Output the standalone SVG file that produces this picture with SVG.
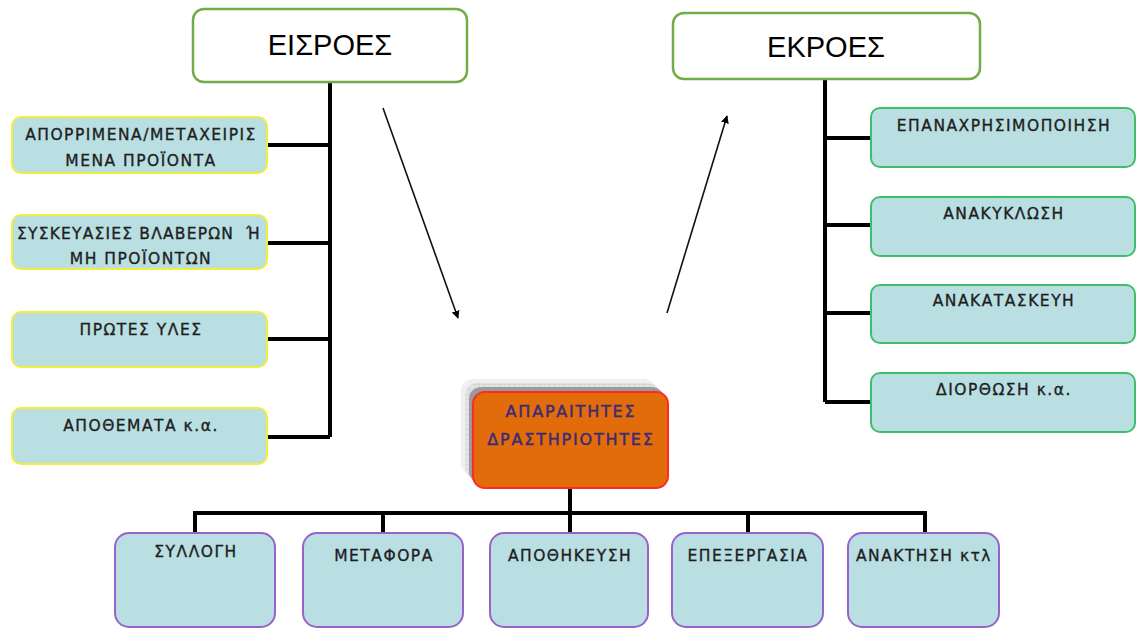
<svg xmlns="http://www.w3.org/2000/svg" width="1136" height="628" viewBox="0 0 1136 628">
  <style>
    .head { fill: #ffffff; stroke: #70ad47; stroke-width: 2.5; }
    .head-text { font-family: "Liberation Sans", Arial, sans-serif; font-size: 29px; fill: #000000; text-anchor: middle; }
    .in { fill: #b9dfe3; stroke: #f2ee3a; stroke-width: 2; }
    .out { fill: #b9dfe3; stroke: #3fbf6a; stroke-width: 2; }
    .act { fill: #b9dfe3; stroke: #9a62c8; stroke-width: 2; }
    .lbl { font-family: "DejaVu Sans", "Liberation Sans", sans-serif; font-size: 15.5px; letter-spacing: 1.5px; fill: #1e1e1e; stroke: #1e1e1e; stroke-width: 0.35; text-anchor: middle; }
    .tight { letter-spacing: 1.2px; }
    .core { fill: #e36c0a; stroke: #ff2a2a; stroke-width: 2; }
    .core-text { font-family: "DejaVu Sans", "Liberation Sans", sans-serif; font-size: 16px; letter-spacing: 1.8px; fill: #3b2a78; stroke: #3b2a78; stroke-width: 0.45; text-anchor: middle; }
    .tree { fill: none; stroke: #000000; stroke-width: 4; }
    .flow { fill: none; stroke: #111111; stroke-width: 1.6; }
  </style>
  <defs>
    <marker id="tip" viewBox="0 0 10 10" refX="9" refY="5" markerWidth="8" markerHeight="8" orient="auto" markerUnits="userSpaceOnUse">
      <path d="M0,0 L10,5 L0,10 z" fill="#000000"/>
    </marker>
    <pattern id="grid" width="5" height="5" patternUnits="userSpaceOnUse">
      <rect width="5" height="5" fill="#e4e4e4"/>
      <path d="M5,0 V5 M0,5 H5" stroke="#c2c2c2" stroke-width="0.8"/>
    </pattern>
  </defs>

  <!-- connectors -->
  <g id="connectors">
    <!-- inputs trunk -->
    <path class="tree" d="M330,82 V437 M268,145 H330 M268,243 H330 M268,339 H330 M268,437 H330"/>
    <!-- outputs trunk -->
    <path class="tree" d="M825,79 V402 M825,138 H871 M825,225 H871 M825,313 H871 M825,402 H871"/>
    <!-- activities bus -->
    <path class="tree" d="M570,488 V513 M195,513 H925 M195,511 V533 M383,511 V533 M570,511 V533 M748,511 V533 M925,511 V533"/>
    <!-- flow arrows -->
    <line class="flow" x1="383" y1="108" x2="458" y2="318" marker-end="url(#tip)"/>
    <line class="flow" x1="667" y1="313" x2="727" y2="116" marker-end="url(#tip)"/>
  </g>

  <!-- headers -->
  <g id="inputs">
    <rect class="head" x="193" y="9" width="274" height="73" rx="11"/>
    <text class="head-text" x="330" y="55">ΕΙΣΡΟΕΣ</text>
  </g>
  <g id="outputs">
    <rect class="head" x="673" y="13" width="307" height="66" rx="11"/>
    <text class="head-text" x="826" y="57">ΕΚΡΟΕΣ</text>
  </g>

  <!-- input items -->
  <g id="in-used">
    <rect class="in" x="12" y="117" width="255" height="56" rx="9"/>
    <text class="lbl" x="141" y="140">ΑΠΟΡΡΙΜΕΝΑ/ΜΕΤΑΧΕΙΡΙΣ</text>
    <text class="lbl" x="141" y="166">ΜΕΝΑ ΠΡΟΪΟΝΤΑ</text>
  </g>
  <g id="in-packaging">
    <rect class="in" x="12" y="215" width="255" height="54" rx="9"/>
    <text class="lbl tight" x="139" y="239">ΣΥΣΚΕΥΑΣΙΕΣ ΒΛΑΒΕΡΩΝ&#160; Ή</text>
    <text class="lbl" x="141" y="264">ΜΗ ΠΡΟΪΟΝΤΩΝ</text>
  </g>
  <g id="in-raw">
    <rect class="in" x="12" y="312" width="255" height="55" rx="9"/>
    <text class="lbl" x="141" y="335">ΠΡΩΤΕΣ ΥΛΕΣ</text>
  </g>
  <g id="in-stock">
    <rect class="in" x="12" y="408" width="255" height="56" rx="9"/>
    <text class="lbl" x="141" y="431">ΑΠΟΘΕΜΑΤΑ κ.α.</text>
  </g>

  <!-- output items -->
  <g id="out-reuse">
    <rect class="out" x="871" y="108" width="264" height="59" rx="9"/>
    <text class="lbl" x="1004" y="131">ΕΠΑΝΑΧΡΗΣΙΜΟΠΟΙΗΣΗ</text>
  </g>
  <g id="out-recycle">
    <rect class="out" x="871" y="197" width="264" height="59" rx="9"/>
    <text class="lbl" x="1004" y="219">ΑΝΑΚΥΚΛΩΣΗ</text>
  </g>
  <g id="out-rebuild">
    <rect class="out" x="871" y="285" width="264" height="58" rx="9"/>
    <text class="lbl" x="1004" y="306">ΑΝΑΚΑΤΑΣΚΕΥΗ</text>
  </g>
  <g id="out-repair">
    <rect class="out" x="871" y="373" width="264" height="59" rx="9"/>
    <text class="lbl" x="1004" y="395">ΔΙΟΡΘΩΣΗ κ.α.</text>
  </g>

  <!-- central activity node -->
  <g id="core">
    <rect x="461" y="379" width="195" height="96" rx="12" fill="#f0f0f0"/>
    <rect x="465" y="383" width="195" height="96" rx="12" fill="url(#grid)"/>
    <rect x="469" y="387" width="195" height="96" rx="12" fill="#9a9a9a"/>
    <rect class="core" x="473" y="392" width="195" height="96" rx="12"/>
    <text class="core-text" x="571" y="417">ΑΠΑΡΑΙΤΗΤΕΣ</text>
    <text class="core-text" x="571" y="445">ΔΡΑΣΤΗΡΙΟΤΗΤΕΣ</text>
  </g>

  <!-- activity items -->
  <g id="act-collect">
    <rect class="act" x="115" y="533" width="160" height="94" rx="14"/>
    <text class="lbl" x="196" y="557">ΣΥΛΛΟΓΗ</text>
  </g>
  <g id="act-transport">
    <rect class="act" x="303" y="533" width="160" height="94" rx="14"/>
    <text class="lbl" x="384" y="561">ΜΕΤΑΦΟΡΑ</text>
  </g>
  <g id="act-storage">
    <rect class="act" x="490" y="533" width="158" height="94" rx="14"/>
    <text class="lbl" x="570" y="561">ΑΠΟΘΗΚΕΥΣΗ</text>
  </g>
  <g id="act-process">
    <rect class="act" x="672" y="533" width="151" height="94" rx="14"/>
    <text class="lbl" x="748" y="561">ΕΠΕΞΕΡΓΑΣΙΑ</text>
  </g>
  <g id="act-recover">
    <rect class="act" x="848" y="533" width="151" height="94" rx="14"/>
    <text class="lbl" x="924" y="561">ΑΝΑΚΤΗΣΗ κτλ</text>
  </g>
</svg>
